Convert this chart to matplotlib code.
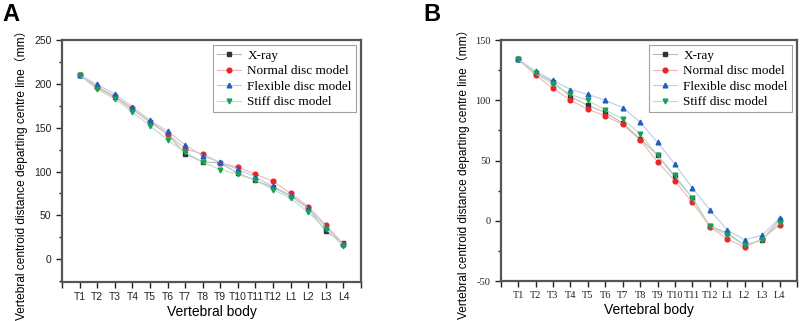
import numpy as np
import matplotlib
matplotlib.use('Agg')
import matplotlib.pyplot as plt
from matplotlib.ticker import MultipleLocator

plt.rcParams['axes.unicode_minus'] = False

# vertebral levels
levels = ['T1', 'T2', 'T3', 'T4', 'T5', 'T6', 'T7', 'T8', 'T9', 'T10', 'T11', 'T12',
          'L1', 'L2', 'L3', 'L4']

# panel A (mm)
a_xray = [210, 196, 185, 171, 157, 143, 120, 111, 110, 98, 90, 82, 72, 58, 32, 18]
a_normal = [210, 197, 186, 172, 156, 143, 126, 120, 110, 105, 97, 89, 75, 60, 39, 17]
a_flex = [210, 199.5, 188.5, 174, 158.5, 146, 130.5, 118, 110.5, 102.5, 94, 83, 73, 58, 37, 17]
a_stiff = [210, 194, 183, 168, 152.5, 136, 122, 111, 102, 97, 90, 79.5, 69.5, 53.5, 34.5, 15]

# panel B (mm)
b_xray = [134, 122.5, 115.4, 103, 95.8, 90, 81, 68, 54.5, 36, 19, -4.5, -10, -20.5, -15.8, 1]
b_normal = [134, 121, 110, 100, 92.7, 87, 80, 67, 49, 33, 15.2, -4.8, -15.2, -22, -15, -3.6]
b_flex = [134, 124.3, 116.5, 109, 105, 100, 94, 82, 65, 47, 27, 9.2, -7.7, -15.8, -12, 2.2]
b_stiff = [134, 122.3, 113.5, 105, 100, 92, 84.7, 72, 54.5, 37.7, 18.8, -4.5, -12, -20, -15.8, -1.7]

names = ['X-ray', 'Normal disc model', 'Flexible disc model', 'Stiff disc model']
marker_colors = ['#333333', '#e8262a', '#1f5fbf', '#17a05a']
line_colors = ['#b8b8b8', '#f3b5b0', '#b9cdea', '#b5e0c5']
markers = ['s', 'o', '^', 'v']

ylab = 'Vertebral centroid distance departing centre line（mm）'
sans = ['Liberation Sans', 'Noto Sans CJK SC']
serif = ['Liberation Serif', 'DejaVu Serif']


def draw(ax, series, ylim, ystep, xmax, tick_family):
	x = np.arange(1, len(levels) + 1)
	for s, name, mc, lc, m in zip(series, names, marker_colors, line_colors, markers):
		ax.plot(x, s, color=lc, lw=0.8, marker=m, ms=3.4, mfc=mc, mec=mc, label=name)
	ax.set_xlim(0, xmax)
	ax.set_ylim(*ylim)
	ax.set_xticks(np.arange(0, 18))
	ax.set_xticklabels([''] + levels + [''])
	ax.yaxis.set_major_locator(MultipleLocator(ystep))
	ax.yaxis.set_minor_locator(MultipleLocator(ystep / 2))
	ax.tick_params(axis='both', which='both', direction='out', width=1.0, colors='#222222',
		labelsize=7.5)
	ax.tick_params(which='major', length=4)
	ax.tick_params(which='minor', length=2.5)
	for lab in ax.get_xticklabels() + ax.get_yticklabels():
		lab.set_family(tick_family)
	for sp in ax.spines.values():
		sp.set_linewidth(1.6)
		sp.set_color('#555555')
	ax.set_xlabel('Vertebral body', family=sans, fontsize=10, labelpad=2)
	ax.set_ylabel(ylab, family=sans, fontsize=8.6)
	leg = ax.legend(loc='upper right', prop={'family': serif, 'size': 9.5}, frameon=True,
		fancybox=False, borderpad=0.3, labelspacing=0.25, handlelength=1.8,
		handletextpad=0.5, borderaxespad=0.4)
	leg.get_frame().set_edgecolor('#888888')
	leg.get_frame().set_linewidth(0.8)


fig = plt.figure(figsize=(8.03, 3.21), dpi=100)
axA = fig.add_axes([0.0772, 0.1215, 0.3724, 0.7535])
axB = fig.add_axes([0.6235, 0.1246, 0.369, 0.7504])

draw(axA, [a_xray, a_normal, a_flex, a_stiff], (-26, 250), 50, 17, sans)
draw(axB, [b_xray, b_normal, b_flex, b_stiff], (-50, 150), 50, 16.75, serif)

# label positions in axes fraction
axA.yaxis.set_label_coords(-0.112, 0.455)
axB.yaxis.set_label_coords(-0.105, 0.455)

fig.text(0.003, 0.99, 'A', fontsize=17, fontweight='bold', family=sans, va='top')
fig.text(0.527, 0.99, 'B', fontsize=17, fontweight='bold', family=sans, va='top')

fig.savefig('out.png', dpi=100)
